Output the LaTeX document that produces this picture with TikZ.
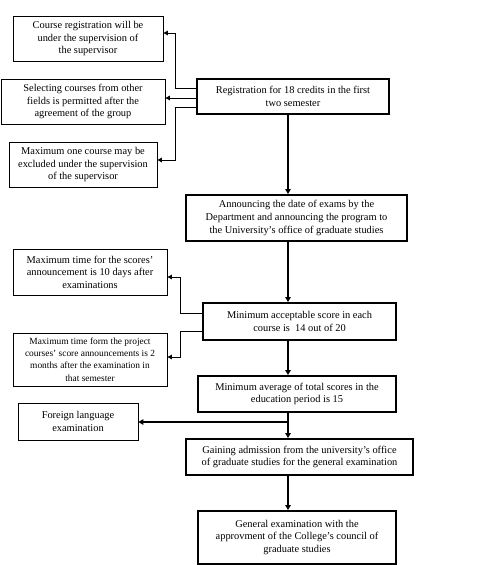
\documentclass[tikz,border=0pt]{standalone}
\usepackage{fontspec}
\setmainfont{Liberation Serif}
\usetikzlibrary{arrows.meta}
\begin{document}
\begin{tikzpicture}[x=1pt,y=-1pt,
  box/.style={draw,line width=0.8pt,align=center,inner sep=1pt,
    font=\fontsize{10.4}{12.6}\selectfont},
  mainbox/.style={box,line width=2pt},
  side/.style={line width=0.8pt,-{Triangle[length=4.5pt,width=4.5pt]}},
  mainarrow/.style={line width=2.4pt,-{Triangle[length=5pt,width=5.5pt]}}]
\useasboundingbox (0,0) rectangle (492,565);
% side boxes
\node[box,minimum width=150pt,minimum height=45pt] (b1) at (88,38.5)
  {Course registration will be\\under the supervision of\\the supervisor};
\node[box,minimum width=164pt,minimum height=45pt] (b2) at (83,101.5)
  {Selecting courses from other\\fields is permitted after the\\agreement of the group};
\node[box,minimum width=148pt,minimum height=45pt] (b3) at (83,164.5)
  {Maximum one course may be\\excluded under the supervision\\of the supervisor};
\node[box,minimum width=154pt,minimum height=46pt] (sc) at (90,272)
  {Maximum time for the scores'\\announcement is 10 days after\\examinations};
\node[box,minimum width=154pt,minimum height=53pt,font=\fontsize{9.4}{12.2}\selectfont] (proj) at (90,359.5)
  {Maximum time form the project\\courses' score announcements is 2\\months after the examination in\\that semester};
\node[box,minimum width=120pt,minimum height=37pt] (fl) at (78,421.5)
  {Foreign language\\examination};
% main boxes
\node[mainbox,minimum width=192pt,minimum height=35pt] (reg) at (293,96.5)
  {Registration for 18 credits in the first\\two semester};
\node[mainbox,minimum width=221pt,minimum height=46pt] (ann) at (296.5,218)
  {Announcing the date of exams by the\\Department and announcing the program to\\the University's office of graduate studies};
\node[mainbox,minimum width=193pt,minimum height=37pt] (mn) at (299.5,321.5)
  {Minimum acceptable score in each\\course is \ 14 out of 20};
\node[mainbox,minimum width=198pt,minimum height=36pt] (avg) at (297,394)
  {Minimum average of total scores in the\\education period is 15};
\node[mainbox,minimum width=227pt,minimum height=36pt] (gain) at (299.5,457)
  {Gaining admission from the university's office\\of graduate studies for the general examination};
\node[mainbox,minimum width=198pt,minimum height=53pt] (gen) at (297,537.5)
  {General examination with the\\approvment of the College's council of\\graduate studies};
% side connectors
\draw[side] (reg.west|-0,88) -- (175,88) -- (175,33) -- (b1.east|-0,33);
\draw[side] (reg.west|-0,98) -- (b2.east|-0,98);
\draw[side] (reg.west|-0,107) -- (175,107) -- (175,160) -- (b3.east|-0,160);
\draw[side] (mn.west|-0,313) -- (180,313) -- (180,277) -- (sc.east|-0,277);
\draw[side] (mn.west|-0,331) -- (180,331) -- (180,357) -- (proj.east|-0,357);
% main connectors
\draw[mainarrow] (reg.south-|288,0) -- (ann.north-|288,0);
\draw[mainarrow] (ann.south-|288,0) -- (mn.north-|288,0);
\draw[mainarrow] (mn.south-|288,0) -- (avg.north-|288,0);
\draw[mainarrow] (avg.south-|288,0) -- (gain.north-|288,0);
\draw[mainarrow] (288,422) -- (fl.east|-0,422);
\draw[mainarrow] (gain.south-|288,0) -- (gen.north-|288,0);
\end{tikzpicture}
\end{document}
